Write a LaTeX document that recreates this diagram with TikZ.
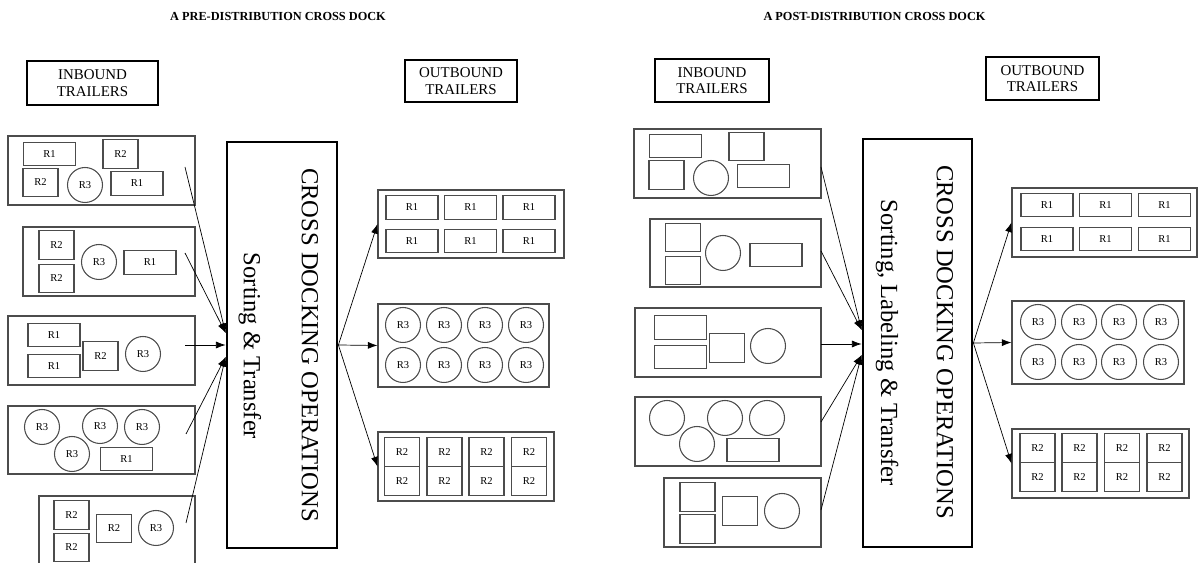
\documentclass[tikz,border=0pt]{standalone}
\usepackage{fontspec}
\setmainfont{Liberation Serif}
\usetikzlibrary{arrows.meta}
\tikzset{
    labelbox/.style={draw,line width=1.1pt,align=center,inner sep=0pt,font=\fontsize{8.5}{9.5}\selectfont},
    trailer/.style={draw=black!70,line width=0.6pt,inner sep=0pt},
    wide/.style={draw=black!70,line width=0.6pt,inner sep=0pt,minimum width=1.04cm,minimum height=0.47cm,font=\fontsize{6}{6}\selectfont},
    sq/.style={wide,minimum width=0.7cm,minimum height=0.57cm},
    rnd/.style={wide,circle,minimum size=0.7cm},
    opsbox/.style={draw,line width=1.6pt,inner sep=0pt},
    optext/.style={rotate=-90,inner sep=0pt,font=\fontsize{14}{14}\selectfont},
    headline/.style={font=\fontsize{7}{7}\selectfont\bfseries}
}
\begin{document}
\begin{tikzpicture}[x=0.02cm,y=-0.02cm,>={Latex[length=5.5pt,width=4pt]}]
                \useasboundingbox (0,0) rectangle (1198,563);
                % ---------- pre-distribution ----------
                \node[headline] (pretitle) at (278,16) {A PRE-DISTRIBUTION CROSS DOCK};
                \node[labelbox,minimum width=2.62cm,minimum height=0.88cm] (lin) at (92.5,83) {INBOUND\\TRAILERS};
                \node[labelbox,minimum width=2.24cm,minimum height=0.84cm] (lout) at (461,81) {OUTBOUND\\TRAILERS};
                \node[opsbox,minimum width=2.2cm,minimum height=8.12cm] (lcd) at (282,345) {};
                \node[optext] (lcdtop) at (310,345) {CROSS DOCKING OPERATIONS};
                \node[optext] (lcdsub) at (250,346) {Sorting \& Transfer};
                % inbound trailers
                \node[trailer,minimum width=3.74cm,minimum height=1.38cm] (lt1) at (101.5,170.5) {};
                \node[wide] (l1a) at (49.5,154) {R1};
                \node[sq] (l1b) at (120.5,154) {R2};
                \node[sq] (l1c) at (40.5,182.5) {R2};
                \node[rnd] (l1d) at (85,185) {R3};
                \node[wide] (l1e) at (137,183.5) {R1};
                \node[trailer,minimum width=3.44cm,minimum height=1.38cm] (lt2) at (109,261.5) {};
                \node[sq] (l2a) at (56.5,245) {R2};
                \node[sq] (l2b) at (56.5,278.5) {R2};
                \node[rnd] (l2c) at (99,262) {R3};
                \node[wide] (l2d) at (150,262.5) {R1};
                \node[trailer,minimum width=3.74cm,minimum height=1.38cm] (lt3) at (101.5,350.5) {};
                \node[wide] (l3a) at (54,335) {R1};
                \node[wide] (l3b) at (54,366) {R1};
                \node[sq] (l3c) at (100.5,356) {R2};
                \node[rnd] (l3d) at (143,354) {R3};
                \node[trailer,minimum width=3.74cm,minimum height=1.36cm] (lt4) at (101.5,440) {};
                \node[rnd] (l4a) at (42,427) {R3};
                \node[rnd] (l4b) at (100,426) {R3};
                \node[rnd] (l4c) at (142,427) {R3};
                \node[rnd] (l4d) at (72,454) {R3};
                \node[wide] (l4e) at (126.5,459) {R1};
                \node[trailer,minimum width=3.12cm,minimum height=1.4cm] (lt5) at (117,531) {};
                \node[sq] (l5a) at (71.5,515) {R2};
                \node[sq] (l5b) at (71.5,547.5) {R2};
                \node[sq] (l5c) at (114,528.5) {R2};
                \node[rnd] (l5d) at (156,528) {R3};
                \coordinate (ls1) at (185,167);
                \coordinate (ls2) at (185,253);
                \coordinate (ls3) at (185,345);
                \coordinate (ls4) at (186,434);
                \coordinate (ls5) at (186,523);
                \draw[->] (ls1) -- ([yshift=0.24cm]lcd.west);
                \draw[->] (ls2) -- ([yshift=0.24cm]lcd.west);
                \draw[->] (ls3) -- (ls3 -| lcd.west);
                \draw[->] (ls4) -- ([yshift=-0.24cm]lcd.west);
                \draw[->] (ls5) -- ([yshift=-0.24cm]lcd.west);
                % outbound trailers
                \node[trailer,minimum width=3.72cm,minimum height=1.36cm] (lo1) at (471,224) {};
                \foreach \x [count=\i] in {412,470.5,529}
                    \foreach \y [count=\j] in {207.5,241}
                        \node[wide] (lo1-\i-\j) at (\x,\y) {R1};
                \node[trailer,minimum width=3.42cm,minimum height=1.66cm] (lo2) at (463.5,345.5) {};
                \foreach \x [count=\i] in {403,444,485,526}
                    \foreach \y [count=\j] in {325,365}
                        \node[rnd] (lo2-\i-\j) at (\x,\y) {R3};
                \node[trailer,minimum width=3.52cm,minimum height=1.38cm] (lo3) at (466,466.5) {};
                \foreach \x [count=\i] in {402,444.5,486.5,529}
                    \foreach \y [count=\j] in {452,481}
                        \node[sq] (lo3-\i-\j) at (\x,\y) {R2};
                \draw[->] (lcd.east) -- (lo1.west);
                \draw[->] (lcd.east) -- (lo2.west);
                \draw[->] (lcd.east) -- (lo3.west);
                % ---------- post-distribution ----------
                \node[headline] (posttitle) at (874.5,16) {A POST-DISTRIBUTION CROSS DOCK};
                \node[labelbox,minimum width=2.28cm,minimum height=0.86cm] (rin) at (712,80.5) {INBOUND\\TRAILERS};
                \node[labelbox,minimum width=2.26cm,minimum height=0.86cm] (rout) at (1042.5,78.5) {OUTBOUND\\TRAILERS};
                \node[opsbox,minimum width=2.18cm,minimum height=8.16cm] (rcd) at (917.5,343) {};
                \node[optext] (rcdtop) at (945,342) {CROSS DOCKING OPERATIONS};
                \node[optext] (rcdsub) at (887,343) {Sorting, Labeling \& Transfer};
                % inbound trailers (unlabelled)
                \node[trailer,minimum width=3.74cm,minimum height=1.38cm] (rt1) at (727.5,163.5) {};
                \node[wide] (r1a) at (675.5,146) {};
                \node[sq] (r1b) at (746.5,146.5) {};
                \node[sq] (r1c) at (666.5,175) {};
                \node[rnd] (r1d) at (711,178) {};
                \node[wide] (r1e) at (763.5,176) {};
                \node[trailer,minimum width=3.42cm,minimum height=1.36cm] (rt2) at (735.5,253) {};
                \node[sq] (r2a) at (683,237.5) {};
                \node[sq] (r2b) at (683,270.5) {};
                \node[rnd] (r2c) at (723,253) {};
                \node[wide] (r2d) at (776,255) {};
                \node[trailer,minimum width=3.72cm,minimum height=1.38cm] (rt3) at (728,342.5) {};
                \node[wide] (r3a) at (680.5,327.5) {};
                \node[wide] (r3b) at (680.5,357) {};
                \node[sq] (r3c) at (727,348) {};
                \node[rnd] (r3d) at (768,346) {};
                \node[trailer,minimum width=3.72cm,minimum height=1.38cm] (rt4) at (728,431.5) {};
                \node[rnd] (r4a) at (667,418) {};
                \node[rnd] (r4b) at (725,418) {};
                \node[rnd] (r4c) at (767,418) {};
                \node[rnd] (r4d) at (697,444) {};
                \node[wide] (r4e) at (753,450) {};
                \node[trailer,minimum width=3.14cm,minimum height=1.38cm] (rt5) at (742.5,512.5) {};
                \node[sq] (r5a) at (697.5,497) {};
                \node[sq] (r5b) at (697.5,529) {};
                \node[sq] (r5c) at (740,511) {};
                \node[rnd] (r5d) at (782,511) {};
                \coordinate (rs1) at (821,167);
                \coordinate (rs2) at (821,251);
                \coordinate (rs3) at (821,344);
                \coordinate (rs4) at (821,422);
                \coordinate (rs5) at (821,510);
                \draw[->] (rs1) -- ([yshift=0.26cm]rcd.west);
                \draw[->] (rs2) -- ([yshift=0.26cm]rcd.west);
                \draw[->] (rs3) -- (rs3 -| rcd.west);
                \draw[->] (rs4) -- ([yshift=-0.24cm]rcd.west);
                \draw[->] (rs5) -- ([yshift=-0.24cm]rcd.west);
                % outbound trailers
                \node[trailer,minimum width=3.7cm,minimum height=1.38cm] (ro1) at (1104.5,222.5) {};
                \foreach \x [count=\i] in {1047,1105.5,1164.5}
                    \foreach \y [count=\j] in {205,239}
                        \node[wide] (ro1-\i-\j) at (\x,\y) {R1};
                \node[trailer,minimum width=3.44cm,minimum height=1.66cm] (ro2) at (1098,342.5) {};
                \foreach \x [count=\i] in {1038,1079,1119,1161}
                    \foreach \y [count=\j] in {322,362}
                        \node[rnd] (ro2-\i-\j) at (\x,\y) {R3};
                \node[trailer,minimum width=3.54cm,minimum height=1.38cm] (ro3) at (1100.5,463.5) {};
                \foreach \x [count=\i] in {1037.5,1079.5,1122,1164.5}
                    \foreach \y [count=\j] in {448,477}
                        \node[sq] (ro3-\i-\j) at (\x,\y) {R2};
                \draw[->] (rcd.east) -- (ro1.west);
                \draw[->] (rcd.east) -- (ro2.west);
                \draw[->] (rcd.east) -- (ro3.west);
\end{tikzpicture}
\end{document}
